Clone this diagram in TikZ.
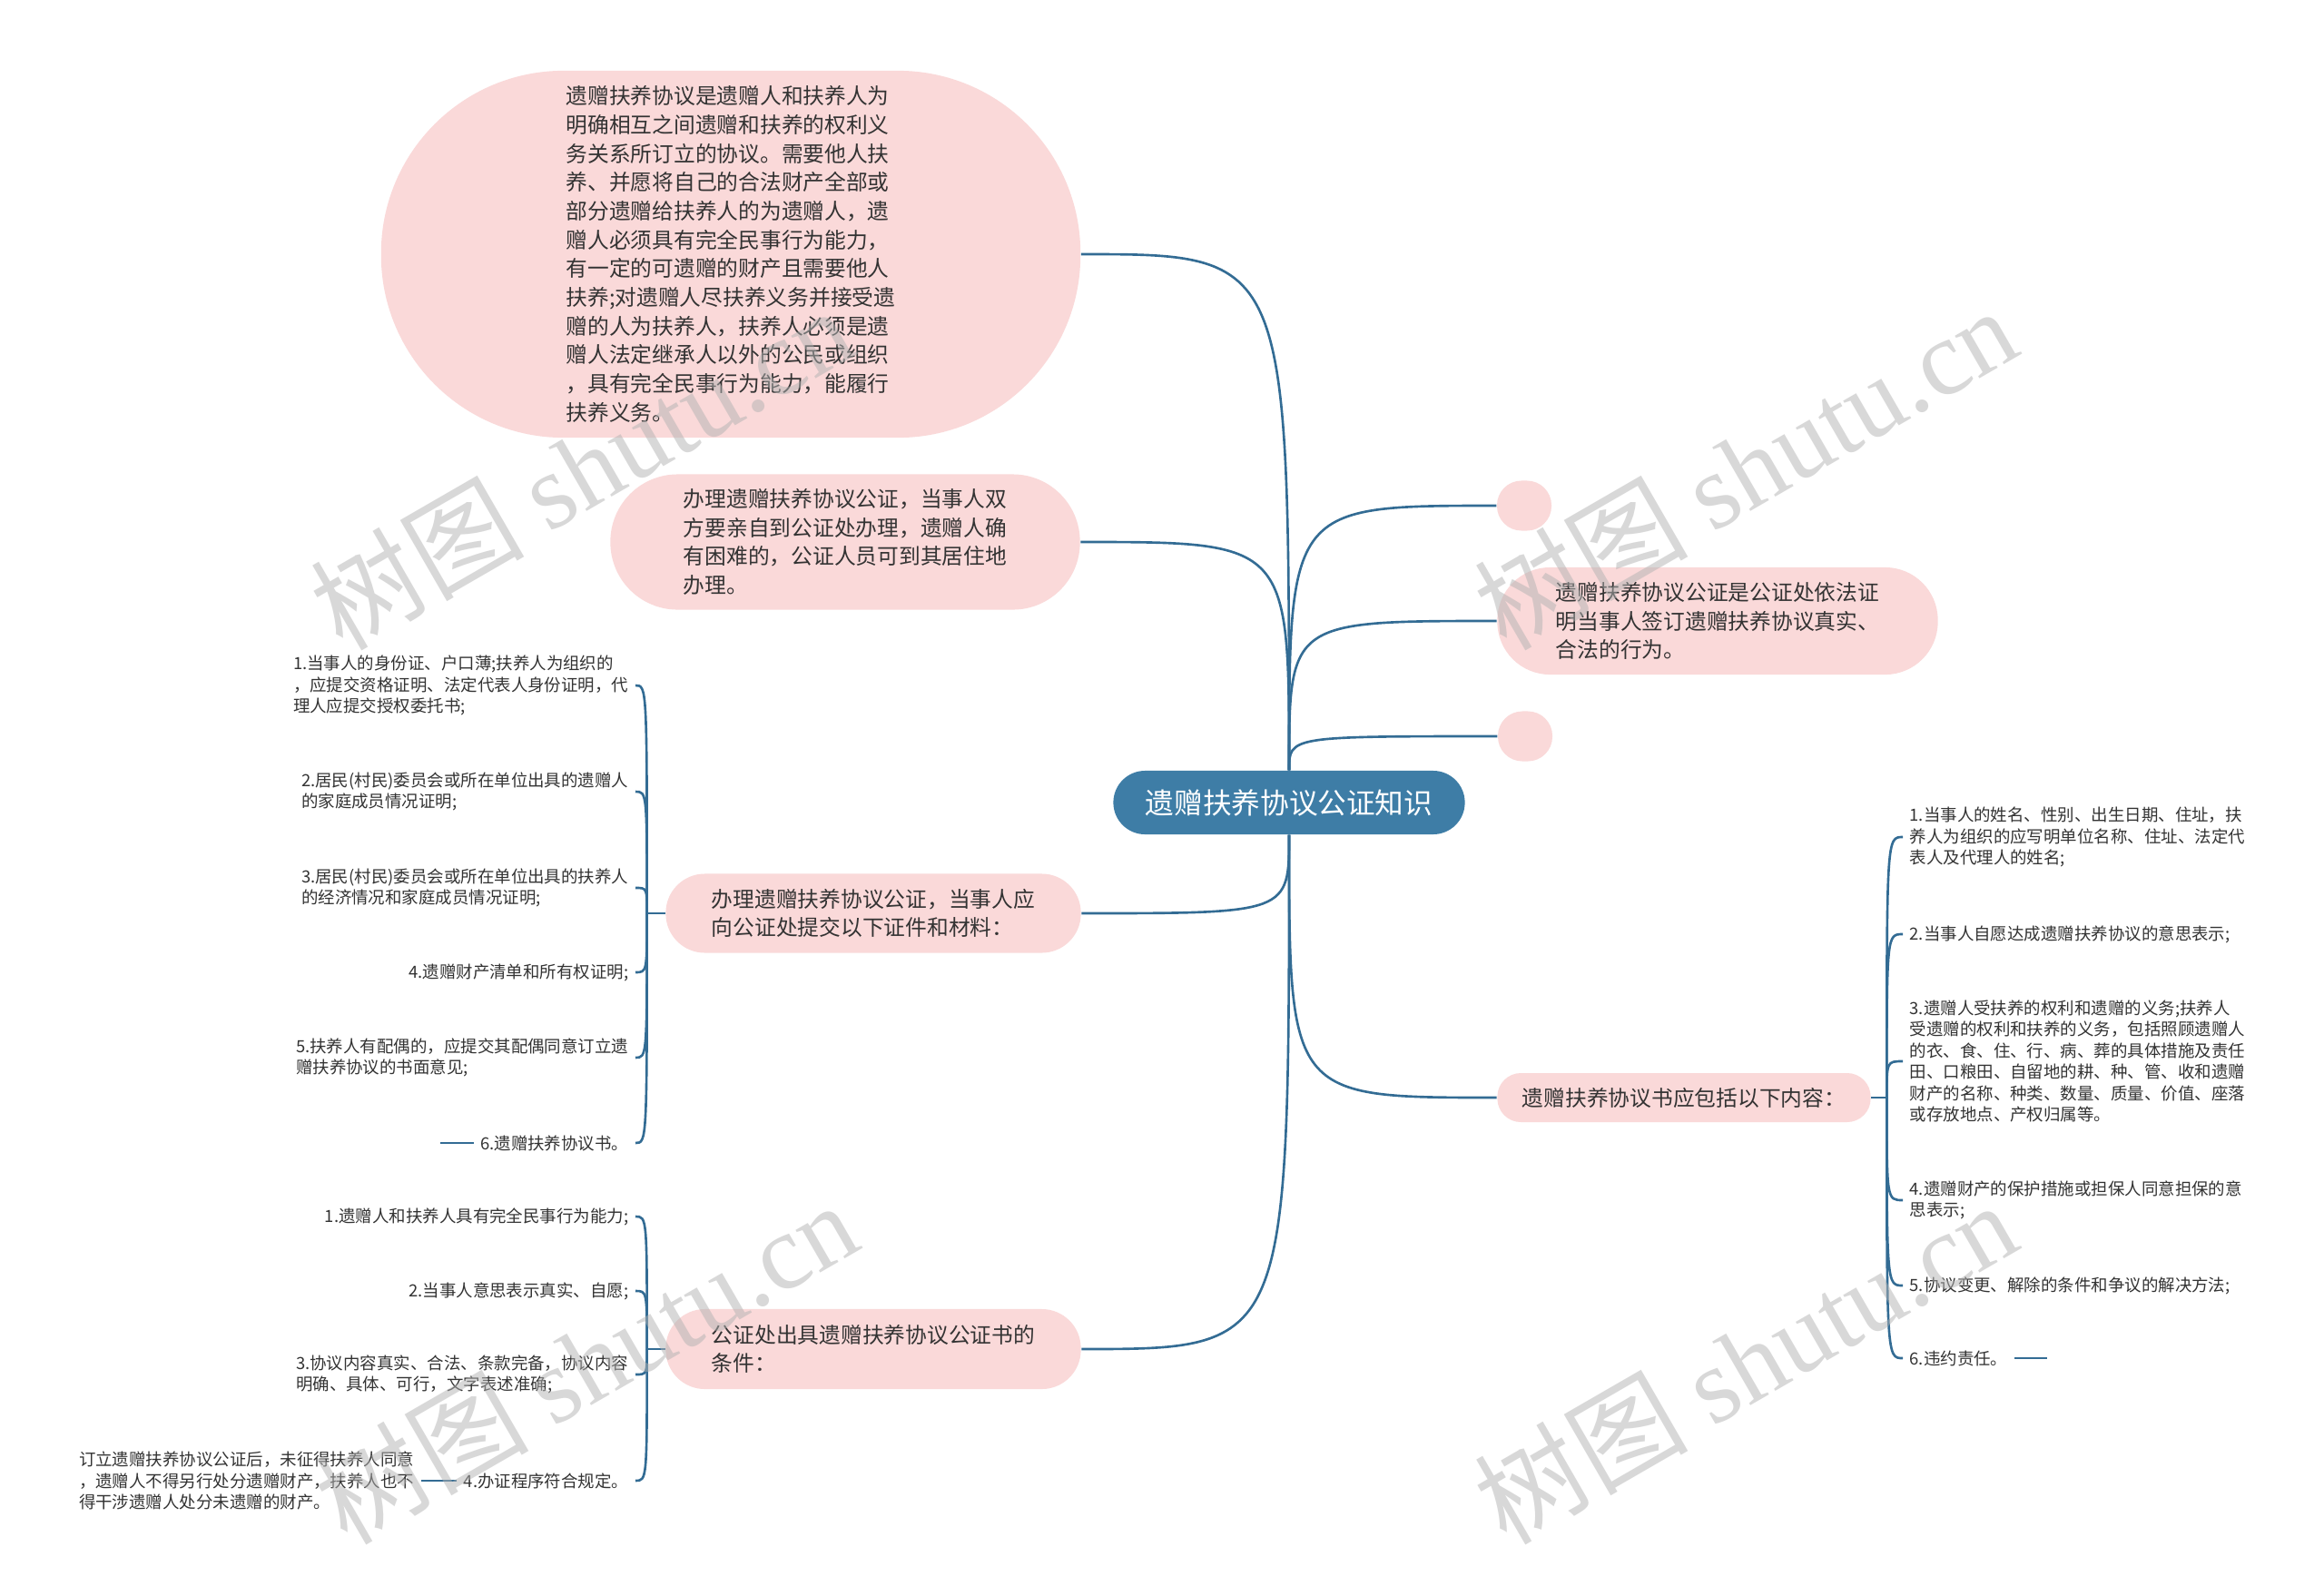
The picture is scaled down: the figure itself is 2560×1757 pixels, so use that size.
\documentclass[tikz,border=0pt]{standalone}
\usepackage{fontspec}
\setmainfont{Noto Sans CJK SC}
\newfontfamily\wmserif{Liberation Serif}
\usepackage{tikz}

\definecolor{topicpink}{HTML}{FAD9D9}
\definecolor{rootblue}{HTML}{3E7DA6}
\definecolor{linkblue}{HTML}{336C94}
\definecolor{inkgray}{HTML}{333333}

\begin{document}
\begin{tikzpicture}[
  x=0.01cm, y=-0.01cm,
  rootbox/.style={fill=rootblue,text=white,font=\fontsize{9pt}{11pt}\selectfont,
    minimum width=3.87cm,minimum height=0.7cm,rounded corners=0.349cm,inner sep=0pt},
  topic/.style={fill=topicpink,text=inkgray,font=\fontsize{6.75pt}{9pt}\selectfont,
    align=left,inner sep=0pt},
  leaf/.style={text=inkgray,font=\fontsize{5.25pt}{6.7pt}\selectfont,
    align=left,inner xsep=0.07cm,inner ysep=0pt},
  link/.style={draw=linkblue,line width=0.75pt},
  wmark/.style={text=gray!60,text opacity=0.5,font=\fontsize{33.5pt}{34pt}\selectfont,rotate=30}
]
  \fill[white] (0,0) rectangle (2560,1757);
  \useasboundingbox (0,0) rectangle (2560,1757);

  \node[rootbox] (root) at (1420,884) {遗赠扶养协议公证知识};

  % left topics
  \node[topic,minimum width=7.7cm,minimum height=4.04cm,rounded corners=2.01cm] (def) at (805,280)
    {遗赠扶养协议是遗赠人和扶养人为\\明确相互之间遗赠和扶养的权利义\\务关系所订立的协议。需要他人扶\\养、并愿将自己的合法财产全部或\\部分遗赠给扶养人的为遗赠人，遗\\赠人必须具有完全民事行为能力，\\有一定的可遗赠的财产且需要他人\\扶养;对遗赠人尽扶养义务并接受遗\\赠的人为扶养人，扶养人必须是遗\\赠人法定继承人以外的公民或组织\\，具有完全民事行为能力，能履行\\扶养义务。};
  \node[topic,minimum width=5.17cm,minimum height=1.49cm,rounded corners=0.74cm] (visit) at (931,597)
    {办理遗赠扶养协议公证，当事人双\\方要亲自到公证处办理，遗赠人确\\有困难的，公证人员可到其居住地\\办理。};
  \node[topic,minimum width=4.57cm,minimum height=0.87cm,rounded corners=0.43cm] (docs) at (962,1006)
    {办理遗赠扶养协议公证，当事人应\\向公证处提交以下证件和材料：};
  \node[topic,minimum width=4.57cm,minimum height=0.88cm,rounded corners=0.43cm] (cond) at (962,1486)
    {公证处出具遗赠扶养协议公证书的\\条件：};

  % right topics
  \node[topic,minimum width=0.6cm,minimum height=0.55cm,rounded corners=0.27cm] (dotA) at (1679,557) {};
  \node[topic,minimum width=4.85cm,minimum height=1.18cm,rounded corners=0.58cm] (meaning) at (1892,684)
    {遗赠扶养协议公证是公证处依法证\\明当事人签订遗赠扶养协议真实、\\合法的行为。};
  \node[topic,minimum width=0.6cm,minimum height=0.55cm,rounded corners=0.27cm] (dotB) at (1680,811) {};
  \node[topic,minimum width=4.11cm,minimum height=0.54cm,rounded corners=0.26cm] (content) at (1855,1209)
    {遗赠扶养协议书应包括以下内容：};

  % documents to hand in
  \node[leaf,anchor=east] (d1) at (700,755) {1.当事人的身份证、户口薄;扶养人为组织的\\，应提交资格证明、法定代表人身份证明，代\\理人应提交授权委托书;};
  \node[leaf,anchor=east] (d2) at (700,872) {2.居民(村民)委员会或所在单位出具的遗赠人\\的家庭成员情况证明;};
  \node[leaf,anchor=east] (d3) at (700,978) {3.居民(村民)委员会或所在单位出具的扶养人\\的经济情况和家庭成员情况证明;};
  \node[leaf,anchor=east] (d4) at (700,1071) {4.遗赠财产清单和所有权证明;};
  \node[leaf,anchor=east] (d5) at (700,1165) {5.扶养人有配偶的，应提交其配偶同意订立遗\\赠扶养协议的书面意见;};
  \node[leaf,anchor=east] (d6) at (700,1259) {6.遗赠扶养协议书。};
  \coordinate (d6tail) at (485,1259);

  % conditions
  \node[leaf,anchor=east] (k1) at (700,1340) {1.遗赠人和扶养人具有完全民事行为能力;};
  \node[leaf,anchor=east] (k2) at (700,1422) {2.当事人意思表示真实、自愿;};
  \node[leaf,anchor=east] (k3) at (700,1514) {3.协议内容真实、合法、条款完备，协议内容\\明确、具体、可行，文字表述准确;};
  \node[leaf,anchor=east] (k4) at (700,1631) {4.办证程序符合规定。};
  \node[leaf,anchor=east] (k4note) at (464,1631) {订立遗赠扶养协议公证后，未征得扶养人同意\\，遗赠人不得另行处分遗赠财产，扶养人也不\\得干涉遗赠人处分未遗赠的财产。};

  % contents of the agreement
  \node[leaf,anchor=west] (r1) at (2096,922) {1.当事人的姓名、性别、出生日期、住址，扶\\养人为组织的应写明单位名称、住址、法定代\\表人及代理人的姓名;};
  \node[leaf,anchor=west] (r2) at (2096,1029) {2.当事人自愿达成遗赠扶养协议的意思表示;};
  \node[leaf,anchor=west] (r3) at (2096,1169) {3.遗赠人受扶养的权利和遗赠的义务;扶养人\\受遗赠的权利和扶养的义务，包括照顾遗赠人\\的衣、食、住、行、病、葬的具体措施及责任\\田、口粮田、自留地的耕、种、管、收和遗赠\\财产的名称、种类、数量、质量、价值、座落\\或存放地点、产权归属等。};
  \node[leaf,anchor=west] (r4) at (2096,1322) {4.遗赠财产的保护措施或担保人同意担保的意\\思表示;};
  \node[leaf,anchor=west] (r5) at (2096,1416) {5.协议变更、解除的条件和争议的解决方法;};
  \node[leaf,anchor=west] (r6) at (2096,1496) {6.违约责任。};
  \coordinate (r6tail) at (2255,1496);

  % connectors from the root
  \foreach \nodeid in {def,visit,docs,cond}
    \draw[link] (root) .. controls (root |- \nodeid.east) .. (\nodeid.east);
  \foreach \nodeid in {dotA,meaning,dotB,content}
    \draw[link] (root) .. controls (root |- \nodeid.west) .. (\nodeid.west);

  % brackets
  \draw[link] (docs.west) -- ++(-20,0) coordinate (docsT);
  \foreach \nodeid in {d1,d2,d3,d4,d5,d6}
    \draw[link] (docsT) .. controls (docsT |- \nodeid.east) .. (\nodeid.east);
  \draw[link] (cond.west) -- ++(-20,0) coordinate (condT);
  \foreach \nodeid in {k1,k2,k3,k4}
    \draw[link] (condT) .. controls (condT |- \nodeid.east) .. (\nodeid.east);
  \draw[link] (content.east) -- ++(17,0) coordinate (contentT);
  \foreach \nodeid in {r1,r2,r3,r4,r5,r6}
    \draw[link] (contentT) .. controls (contentT |- \nodeid.west) .. (\nodeid.west);

  \draw[link] (d6) -- (d6tail);
  \draw[link] (k4) -- (k4note);
  \draw[link] (r6) -- (r6tail);

  % watermark
  \foreach \wx/\wy [count=\i] in {640/515,1922/515,645/1500,1922/1500}
    \node[wmark] (wm\i) at (\wx,\wy) {树图 {\wmserif shutu.cn}};
\end{tikzpicture}
\end{document}
